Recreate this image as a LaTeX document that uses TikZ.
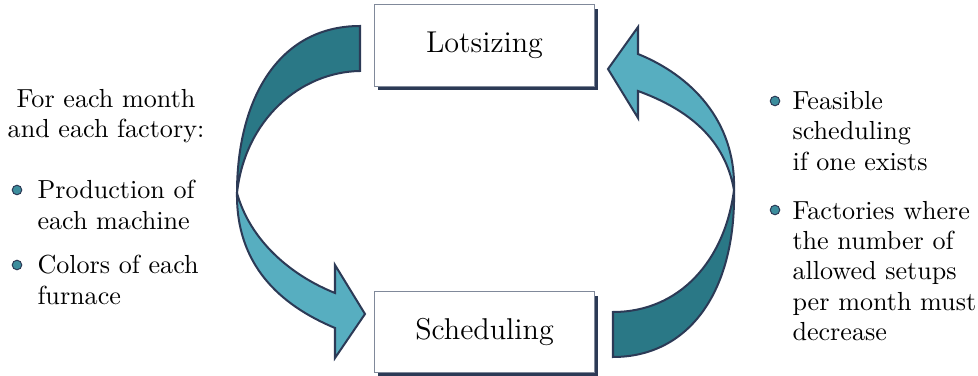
\documentclass[tikz,border=0pt]{standalone}
\usetikzlibrary{positioning,shadows}

\definecolor{darkteal}{HTML}{2A7886}
\definecolor{lightteal}{HTML}{57AEC0}
\definecolor{navy}{HTML}{2C3A56}
\definecolor{balltea}{HTML}{3C8D9D}

\tikzset{
  stepbox/.style={draw=navy!60, line width=0.4pt, fill=white, minimum width=87.3pt,
    minimum height=32.3pt, inner sep=0pt, font=\large,
    drop shadow={shadow xshift=1.4pt, shadow yshift=-1.7pt, fill=navy, opacity=1}},
  ribbon/.style={draw=navy, line width=0.8pt, line join=miter},
  ball/.style={circle, draw=navy, line width=0.4pt, fill=balltea, inner sep=0pt, minimum size=3.8pt},
  plaintext/.style={inner sep=0pt, font=\fontsize{10.4pt}{12pt}\selectfont},
  itemtext/.style={plaintext, anchor=west, align=left}
}

\begin{document}
\begin{tikzpicture}[x=0.3984pt, y=-0.3984pt]
\useasboundingbox (0,0) rectangle (978,376);

% the two steps
\node[stepbox] (lot) at (484.5,45.5) {Lotsizing};
\node[stepbox] (sched) at (484.5,332) {Scheduling};

% left ribbon: lotsizing -> scheduling
\filldraw[ribbon, fill=darkteal] (360,26) .. controls (278,26) and (237,100) .. (237,193)
  .. controls (245,120) and (300,72) .. (360,71) -- cycle;
\filldraw[ribbon, fill=lightteal] (237,193) .. controls (236,265) and (280,305) .. (335,328)
  -- (335,358) -- (365,314) -- (335,265) -- (335,293)
  .. controls (290,275) and (250,240) .. (237,193) -- cycle;

% right ribbon: scheduling -> lotsizing
\filldraw[ribbon, fill=darkteal] (613,357) .. controls (690,357) and (736,290) .. (734,190)
  .. controls (725,260) and (680,312) .. (613,312) -- cycle;
\filldraw[ribbon, fill=lightteal] (734,190) .. controls (736,120) and (690,75) .. (638,54)
  -- (638,27) -- (608,69) -- (638,118) -- (638,91)
  .. controls (690,110) and (725,140) .. (734,190) -- cycle;

% what lotsizing gives
\node[plaintext, align=center] (intro) at (106,116) {For each month\\and each factory:};
\node[ball] (b1) at (17,190) {};
\node[itemtext] (prod) at (37,205) {Production of\\each machine};
\node[ball] (b2) at (17,265) {};
\node[itemtext] (col) at (37,280) {Colors of each\\furnace};

% what scheduling gives back
\node[ball] (b3) at (775,101) {};
\node[itemtext] (feas) at (792,131) {Feasible\\scheduling\\if one exists};
\node[ball] (b4) at (775,210) {};
\node[itemtext] (fact) at (792,271) {Factories where\\the number of\\allowed setups\\per month must\\decrease};
\end{tikzpicture}
\end{document}
